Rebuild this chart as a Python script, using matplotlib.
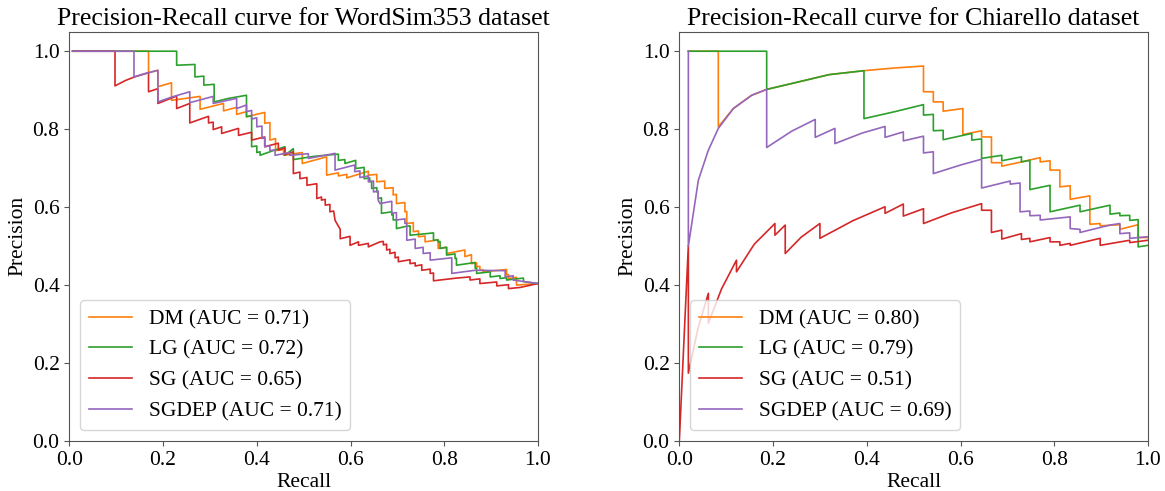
import matplotlib
matplotlib.use("Agg")
import matplotlib.pyplot as plt

plt.rcParams['font.family'] = ['Liberation Serif', 'DejaVu Serif']
plt.rcParams['font.size'] = 15.5
plt.rcParams['axes.titlesize'] = 18.6

# ---- WordSim353: (recall, precision) vertices ----
ws_dm = [(0.007, 1.0), (0.169, 1.0), (0.169, 0.945), (0.189, 0.951), (0.189, 0.909),
         (0.218, 0.919), (0.218, 0.874), (0.279, 0.884), (0.279, 0.851), (0.329, 0.866),
         (0.329, 0.847), (0.357, 0.856), (0.357, 0.838), (0.378, 0.845), (0.378, 0.832),
         (0.417, 0.843), (0.417, 0.815), (0.428, 0.817), (0.428, 0.772), (0.440, 0.776),
         (0.440, 0.745), (0.457, 0.748), (0.457, 0.733), (0.497, 0.740), (0.497, 0.712),
         (0.549, 0.729), (0.549, 0.682), (0.574, 0.688), (0.574, 0.680), (0.592, 0.684),
         (0.592, 0.675), (0.638, 0.692), (0.638, 0.682), (0.656, 0.684), (0.656, 0.665),
         (0.673, 0.667), (0.673, 0.648), (0.691, 0.650), (0.691, 0.631), (0.698, 0.633),
         (0.698, 0.609), (0.716, 0.612), (0.716, 0.588), (0.720, 0.589), (0.720, 0.558),
         (0.734, 0.560), (0.734, 0.537), (0.745, 0.539), (0.745, 0.524), (0.759, 0.526),
         (0.759, 0.511), (0.787, 0.516), (0.787, 0.494), (0.805, 0.497), (0.805, 0.481),
         (0.844, 0.490), (0.844, 0.473), (0.858, 0.478), (0.858, 0.455), (0.869, 0.457),
         (0.869, 0.447), (0.876, 0.448), (0.876, 0.438), (0.883, 0.439), (0.883, 0.434),
         (0.933, 0.440), (0.933, 0.426), (0.937, 0.427), (0.937, 0.417), (0.954, 0.420),
         (0.954, 0.400), (1.0, 0.404)]

ws_lg = [(0.007, 1.0), (0.229, 1.0), (0.229, 0.964), (0.268, 0.966), (0.268, 0.934),
         (0.287, 0.936), (0.287, 0.913), (0.309, 0.915), (0.309, 0.870), (0.340, 0.879),
         (0.378, 0.887), (0.378, 0.832), (0.389, 0.834), (0.389, 0.755), (0.400, 0.757),
         (0.400, 0.740), (0.407, 0.742), (0.407, 0.733), (0.435, 0.745), (0.460, 0.755),
         (0.460, 0.733), (0.478, 0.750), (0.478, 0.722), (0.520, 0.730), (0.546, 0.733),
         (0.574, 0.736), (0.574, 0.720), (0.588, 0.722), (0.588, 0.712), (0.611, 0.720),
         (0.611, 0.699), (0.629, 0.702), (0.629, 0.673), (0.641, 0.675), (0.641, 0.665),
         (0.645, 0.666), (0.645, 0.648), (0.656, 0.650), (0.656, 0.639), (0.659, 0.640),
         (0.659, 0.622), (0.666, 0.624), (0.666, 0.584), (0.688, 0.588), (0.688, 0.580),
         (0.691, 0.581), (0.691, 0.567), (0.698, 0.568), (0.698, 0.545), (0.716, 0.550),
         (0.727, 0.552), (0.727, 0.528), (0.762, 0.532), (0.777, 0.534), (0.777, 0.515),
         (0.787, 0.516), (0.787, 0.511), (0.791, 0.512), (0.791, 0.494), (0.805, 0.497),
         (0.805, 0.477), (0.823, 0.480), (0.823, 0.468), (0.826, 0.469), (0.826, 0.451),
         (0.866, 0.458), (0.866, 0.443), (0.869, 0.444), (0.869, 0.430), (0.898, 0.434),
         (0.898, 0.421), (0.919, 0.424), (0.919, 0.417), (0.933, 0.419), (0.933, 0.413),
         (0.969, 0.418), (0.969, 0.409), (1.0, 0.404)]

ws_sg = [(0.007, 1.0), (0.0975, 1.0), (0.0975, 0.911), (0.120, 0.925), (0.139, 0.934),
         (0.169, 0.945), (0.169, 0.896), (0.189, 0.904), (0.189, 0.866), (0.229, 0.885),
         (0.229, 0.853), (0.257, 0.866), (0.257, 0.816), (0.297, 0.833), (0.297, 0.816),
         (0.307, 0.818), (0.307, 0.799), (0.325, 0.806), (0.325, 0.789), (0.361, 0.802),
         (0.361, 0.784), (0.389, 0.792), (0.389, 0.772), (0.417, 0.780), (0.417, 0.755),
         (0.446, 0.764), (0.446, 0.746), (0.460, 0.752), (0.460, 0.735), (0.478, 0.742),
         (0.478, 0.686), (0.492, 0.690), (0.492, 0.673), (0.507, 0.676), (0.507, 0.656),
         (0.517, 0.658), (0.528, 0.660), (0.528, 0.622), (0.538, 0.626), (0.538, 0.618),
         (0.546, 0.620), (0.546, 0.605), (0.556, 0.607), (0.556, 0.588), (0.564, 0.590),
         (0.567, 0.566), (0.578, 0.543), (0.578, 0.519), (0.599, 0.525), (0.599, 0.502),
         (0.617, 0.511), (0.617, 0.502), (0.638, 0.507), (0.638, 0.498), (0.663, 0.511),
         (0.670, 0.512), (0.670, 0.503), (0.677, 0.505), (0.677, 0.490), (0.684, 0.492),
         (0.684, 0.481), (0.695, 0.484), (0.695, 0.470), (0.702, 0.472), (0.702, 0.460),
         (0.727, 0.465), (0.727, 0.455), (0.738, 0.457), (0.738, 0.449), (0.752, 0.452),
         (0.752, 0.438), (0.770, 0.441), (0.770, 0.430), (0.777, 0.431), (0.777, 0.411),
         (0.826, 0.418), (0.855, 0.421), (0.855, 0.413), (0.876, 0.416), (0.876, 0.404),
         (0.912, 0.408), (0.912, 0.398), (0.937, 0.401), (0.937, 0.391), (0.962, 0.394),
         (1.0, 0.404)]

ws_sgdep = [(0.007, 1.0), (0.138, 1.0), (0.138, 0.934), (0.160, 0.942), (0.189, 0.951),
            (0.189, 0.870), (0.220, 0.883), (0.257, 0.896), (0.257, 0.868), (0.307, 0.884),
            (0.307, 0.866), (0.357, 0.879), (0.357, 0.853), (0.378, 0.862), (0.378, 0.845),
            (0.389, 0.848), (0.389, 0.826), (0.400, 0.829), (0.400, 0.806), (0.411, 0.808),
            (0.411, 0.776), (0.417, 0.778), (0.417, 0.755), (0.428, 0.757), (0.428, 0.745),
            (0.439, 0.747), (0.439, 0.733), (0.470, 0.740), (0.470, 0.733), (0.510, 0.737),
            (0.510, 0.725), (0.546, 0.733), (0.567, 0.738), (0.567, 0.695), (0.609, 0.708),
            (0.609, 0.691), (0.620, 0.693), (0.620, 0.676), (0.638, 0.680), (0.638, 0.665),
            (0.649, 0.667), (0.649, 0.639), (0.659, 0.641), (0.659, 0.618), (0.663, 0.609),
            (0.688, 0.615), (0.688, 0.584), (0.698, 0.586), (0.698, 0.567), (0.716, 0.570),
            (0.716, 0.558), (0.720, 0.559), (0.720, 0.515), (0.738, 0.518), (0.738, 0.494),
            (0.755, 0.497), (0.755, 0.481), (0.770, 0.483), (0.770, 0.464), (0.816, 0.470),
            (0.816, 0.430), (0.866, 0.438), (0.930, 0.437), (0.930, 0.421), (0.947, 0.424),
            (0.947, 0.413), (1.0, 0.404)]

# ---- Chiarello ----
ch_dm = [(0.0193, 1.0), (0.0832, 1.0), (0.0832, 0.806), (0.1153, 0.853), (0.1544, 0.887),
         (0.1864, 0.902), (0.250, 0.920), (0.320, 0.940), (0.394, 0.950), (0.460, 0.957),
         (0.521, 0.962), (0.521, 0.896), (0.542, 0.896), (0.542, 0.870), (0.563, 0.870),
         (0.563, 0.846), (0.605, 0.853), (0.605, 0.786), (0.645, 0.796), (0.645, 0.780),
         (0.666, 0.780), (0.666, 0.714), (0.688, 0.714), (0.688, 0.705), (0.730, 0.716),
         (0.770, 0.727), (0.770, 0.716), (0.791, 0.719), (0.791, 0.695), (0.812, 0.695),
         (0.812, 0.652), (0.834, 0.655), (0.834, 0.620), (0.876, 0.629), (0.876, 0.556),
         (0.898, 0.558), (0.898, 0.552), (0.940, 0.555), (0.940, 0.543), (0.979, 0.555),
         (0.979, 0.522), (1.0, 0.522)]

ch_lg = [(0.0193, 1.0), (0.1864, 1.0), (0.1864, 0.902), (0.250, 0.920), (0.320, 0.940),
         (0.394, 0.950), (0.394, 0.827), (0.460, 0.845), (0.521, 0.863), (0.521, 0.836),
         (0.542, 0.838), (0.542, 0.796), (0.563, 0.797), (0.563, 0.773), (0.624, 0.789),
         (0.624, 0.772), (0.645, 0.775), (0.645, 0.725), (0.688, 0.733), (0.688, 0.719),
         (0.730, 0.729), (0.730, 0.716), (0.748, 0.720), (0.748, 0.645), (0.791, 0.656),
         (0.791, 0.588), (0.855, 0.605), (0.855, 0.588), (0.919, 0.605), (0.919, 0.582),
         (0.940, 0.585), (0.940, 0.578), (0.961, 0.579), (0.961, 0.566), (0.979, 0.568),
         (0.979, 0.498), (1.0, 0.502)]

ch_sg = [(0.0, 0.0), (0.0193, 0.502), (0.0193, 0.174), (0.040, 0.290), (0.062, 0.379),
         (0.062, 0.302), (0.090, 0.390), (0.122, 0.464), (0.122, 0.434), (0.160, 0.505),
         (0.204, 0.558), (0.204, 0.528), (0.226, 0.554), (0.226, 0.481), (0.260, 0.523),
         (0.300, 0.558), (0.300, 0.520), (0.370, 0.565), (0.439, 0.601), (0.439, 0.584),
         (0.478, 0.608), (0.478, 0.577), (0.521, 0.596), (0.521, 0.558), (0.580, 0.585),
         (0.645, 0.609), (0.645, 0.592), (0.666, 0.592), (0.666, 0.535), (0.688, 0.541),
         (0.688, 0.518), (0.730, 0.532), (0.730, 0.517), (0.748, 0.520), (0.748, 0.511),
         (0.791, 0.522), (0.791, 0.511), (0.812, 0.511), (0.812, 0.502), (0.834, 0.507),
         (0.834, 0.502), (0.898, 0.520), (0.898, 0.502), (0.961, 0.515), (0.961, 0.509),
         (1.0, 0.515)]

ch_sgdep = [(0.0193, 1.0), (0.0193, 0.500), (0.0406, 0.669), (0.0619, 0.746), (0.0833, 0.802),
            (0.1153, 0.853), (0.1544, 0.887), (0.1864, 0.902), (0.1864, 0.753), (0.240, 0.795),
            (0.290, 0.825), (0.290, 0.779), (0.332, 0.802), (0.332, 0.763), (0.390, 0.790),
            (0.439, 0.807), (0.439, 0.779), (0.478, 0.793), (0.478, 0.770), (0.521, 0.782),
            (0.521, 0.739), (0.542, 0.742), (0.542, 0.686), (0.600, 0.708), (0.645, 0.723),
            (0.645, 0.649), (0.706, 0.667), (0.706, 0.659), (0.727, 0.662), (0.727, 0.588),
            (0.748, 0.590), (0.748, 0.578), (0.770, 0.579), (0.770, 0.567), (0.834, 0.575),
            (0.834, 0.545), (0.855, 0.543), (0.855, 0.535), (0.919, 0.554), (0.940, 0.558),
            (0.940, 0.532), (0.961, 0.534), (0.961, 0.520), (1.0, 0.524)]

models = ['DM', 'LG', 'SG', 'SGDEP']
colors = ['#ff7f0e', '#2ca02c', '#d62728', '#9467bd']
ws_auc = [0.71, 0.72, 0.65, 0.71]
ch_auc = [0.80, 0.79, 0.51, 0.69]

panels = [
    ('Precision-Recall curve for WordSim353 dataset', [ws_dm, ws_lg, ws_sg, ws_sgdep], ws_auc),
    ('Precision-Recall curve for Chiarello dataset', [ch_dm, ch_lg, ch_sg, ch_sgdep], ch_auc),
]

fig = plt.figure(figsize=(11.65, 4.91), dpi=100)
positions = [[0.0595, 0.1018, 0.4023, 0.8336], [0.5831, 0.1018, 0.4023, 0.8336]]

for pos, (title, curves, aucs) in zip(positions, panels):
    ax = fig.add_axes(pos)
    for name, pts, auc, c in zip(models, curves, aucs, colors):
        r, p = zip(*pts)
        ax.plot(r, p, color=c, lw=1.2, label=f'{name} (AUC = {auc:.2f})')
    ax.set_xlim(0, 1.0)
    ax.set_ylim(0, 1.05)
    ax.set_xticks([0, 0.2, 0.4, 0.6, 0.8, 1.0])
    ax.set_yticks([0, 0.2, 0.4, 0.6, 0.8, 1.0])
    ax.set_xlabel('Recall', labelpad=2)
    ax.set_ylabel('Precision', labelpad=4)
    ax.set_title(title, pad=5)
    for s in ax.spines.values():
        s.set_color('#555555')
    ax.tick_params(color='#555555')
    ax.legend(loc='lower left')

fig.savefig('out.png', dpi=100)
